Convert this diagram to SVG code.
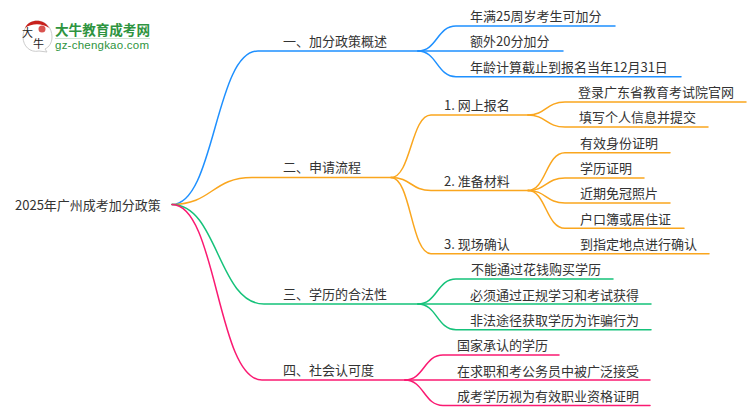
<svg xmlns="http://www.w3.org/2000/svg" width="750" height="410" viewBox="0 0 750 410">
<style>
text{font-family:"Noto Sans CJK SC","Liberation Sans",sans-serif;font-size:13px;fill:#333}
.c{fill:none;stroke-width:1.5;stroke-linecap:round}
.b{stroke:#1e90ff}.o{stroke:#faa61e}.g{stroke:#15c27a}.p{stroke:#fa1a72}
</style>
<rect width="750" height="410" fill="#fff"/>
<g id="logo">
<path d="M37 21C46 21 52 28 52 37C52 43 49 47 45 49L47 52L39 51C30 53 23 46 23 37C23 28 29 21 37 21Z" fill="#fff" stroke="#ccc" stroke-width="1"/>
<path d="M25 28C29 19 44 18 49 28C42 23 32 23 25 28Z" fill="#c8201c"/>
<circle cx="42" cy="29" r="3.500" fill="#d9534f"/>
<text x="22" y="37" style="font-size:11px;fill:#222">大</text>
<text x="33" y="47.500" style="font-size:11px;fill:#222">牛</text>
<text x="55" y="35" style="font-size:13.600px;font-weight:700;fill:#2e9440" textLength="95">大牛教育成考网</text>
<rect x="55" y="38" width="95" height="1" fill="#cfe3d2"/>
<text x="55" y="48.500" style="font-size:11.500px;fill:#2e9440;font-family:'Liberation Sans',sans-serif" textLength="94">gz-chengkao.com</text>
</g>
<g id="connectors">
<path class="c b" d="M172 204.500C215 204.500 215 51 258 51H418"/>
<path class="c o" d="M172 204.500C212 204.500 212 177.500 252 177.500H391"/>
<path class="c g" d="M172 204.500C218 204.500 218 304 264 304H418"/>
<path class="c p" d="M172 204.500C217 204.500 217 380 262 380H405"/>
<path class="c b" d="M418 51C437 51 437 26 456 26H615"/>
<path class="c b" d="M418 51H563"/>
<path class="c b" d="M418 51C437 51 437 76.700 456 76.700H681"/>
<path class="c o" d="M391 177.500C411 177.500 411 115 431 115H528"/>
<path class="c o" d="M391 177.500C411 177.500 411 190.500 431 190.500H528"/>
<path class="c o" d="M391 177.500C411 177.500 411 253.700 431 253.700H709"/>
<path class="c o" d="M528 115C546 115 546 102 565 102H746"/>
<path class="c o" d="M528 115C546 115 546 127 565 127H708"/>
<path class="c o" d="M528 190.500C546 190.500 546 152.700 565 152.700H670"/>
<path class="c o" d="M528 190.500C546 190.500 546 178 565 178H644"/>
<path class="c o" d="M528 190.500C546 190.500 546 203 565 203H670"/>
<path class="c o" d="M528 190.500C546 190.500 546 228.300 565 228.300H684"/>
<path class="c g" d="M418 304C437 304 437 279 456 279H613"/>
<path class="c g" d="M418 304H651"/>
<path class="c g" d="M418 304C437 304 437 329.700 456 329.700H651"/>
<path class="c p" d="M405 380C424 380 424 355 443 355H559"/>
<path class="c p" d="M405 380H650"/>
<path class="c p" d="M405 380C424 380 424 405.500 443 405.500H650"/>
</g>
<g id="root"><text x="15" y="210">2025年广州成考加分政策</text></g>
<g id="n1"><text x="283" y="46">一、加分政策概述</text></g>
<g id="n1a"><text x="470" y="21">年满25周岁考生可加分</text></g>
<g id="n1b"><text x="470" y="46">额外20分加分</text></g>
<g id="n1c"><text x="470" y="72">年龄计算截止到报名当年12月31日</text></g>
<g id="n2"><text x="283" y="172">二、申请流程</text></g>
<g id="n21"><text x="444" y="110">1. 网上报名</text></g>
<g id="n21a"><text x="578" y="97">登录广东省教育考试院官网</text></g>
<g id="n21b"><text x="579" y="122">填写个人信息并提交</text></g>
<g id="n22"><text x="444" y="186">2. 准备材料</text></g>
<g id="n22a"><text x="580" y="148">有效身份证明</text></g>
<g id="n22b"><text x="580" y="173">学历证明</text></g>
<g id="n22c"><text x="580" y="198">近期免冠照片</text></g>
<g id="n22d"><text x="580" y="224">户口簿或居住证</text></g>
<g id="n23"><text x="444" y="249">3. 现场确认</text></g>
<g id="n23a"><text x="580" y="249">到指定地点进行确认</text></g>
<g id="n3"><text x="283" y="299">三、学历的合法性</text></g>
<g id="n3a"><text x="471" y="274">不能通过花钱购买学历</text></g>
<g id="n3b"><text x="470" y="300">必须通过正规学习和考试获得</text></g>
<g id="n3c"><text x="470" y="325">非法途径获取学历为诈骗行为</text></g>
<g id="n4"><text x="283" y="375">四、社会认可度</text></g>
<g id="n4a"><text x="457" y="350">国家承认的学历</text></g>
<g id="n4b"><text x="457" y="376">在求职和考公务员中被广泛接受</text></g>
<g id="n4c"><text x="457" y="401">成考学历视为有效职业资格证明</text></g>
</svg>
